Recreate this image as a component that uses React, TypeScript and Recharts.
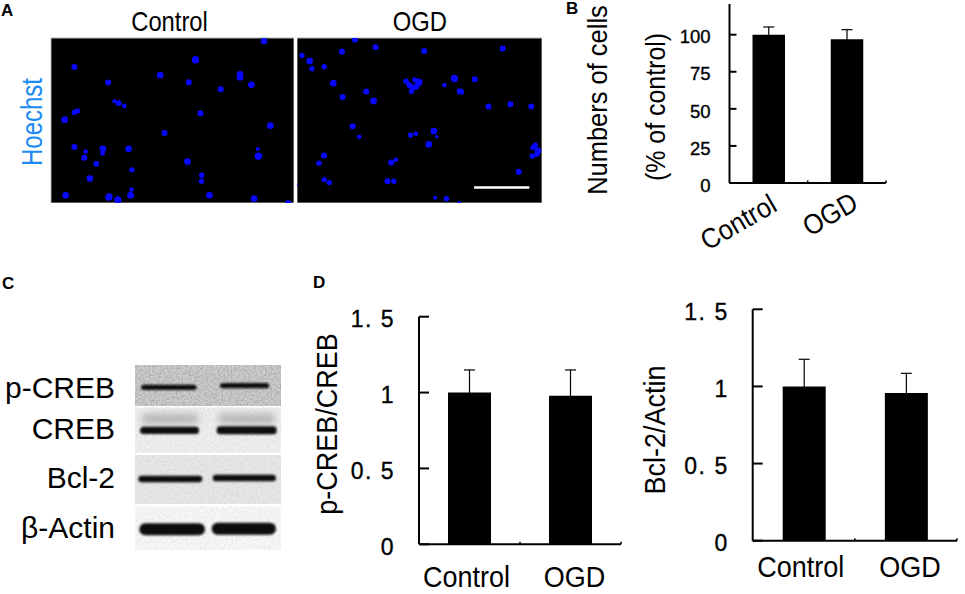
import React from 'react';
import {
  BarChart, Bar, XAxis, YAxis, ErrorBar, Label, ScatterChart, Scatter,
  ReferenceArea, ReferenceLine,
} from 'recharts';

const FONT = '"Liberation Sans", Arial, sans-serif';

// ---- Bar chart values
const groups = ['Control', 'OGD'];
const cellCounts = [100, 96.9];
const cellCountErrors = [5.2, 6.5];
const cellTicks = [0, 25, 50, 75, 100];
const pCreb = [1.0, 0.979];
const pCrebErrors = [0.149, 0.17];
const bcl2 = [1.0, 0.957];
const bcl2Errors = [0.176, 0.128];
const ratioTicks = [0, 0.5, 1, 1.5];
const ratioTickLabels = ['0', '0. 5', '1', '1. 5'];

// ---- Hoechst fields: [x, y, nucleus area] read in field units
const controlNuclei = [
  [792,122,100],[586,178,120],[222,200,81],[480,224,100],[720,221,90],[720,230,110],[324,246,81],[566,245,81],
  [662,266,81],[754,253,100],[342,302,36],[355,307,81],[372,316,49],[222,335,64],[231,331,64],[193,357,100],
  [601,338,81],[811,375,100],[493,397,81],[222,439,81],[256,452,49],[252,471,81],[308,444,100],[307,458,49],
  [385,444,100],[773,445,36],[775,466,121],[288,489,81],[395,507,64],[562,482,100],[605,523,64],[604,541,64],
  [269,533,100],[394,566,49],[391,583,100],[196,583,100],[326,588,121],[353,597,121],[628,583,100],[762,593,100],[865,606,81],
];
const ogdNuclei = [
  [180,118,81],[141,153,81],[242,141,81],[21,165,64],[44,182,100],[51,205,64],[88,199,64],[388,152,81],[624,144,81],
  [115,248,100],[143,289,81],[214,273,81],[236,301,100],[479,234,121],[540,236,81],[449,254,49],[495,272,81],[500,274,64],
  [581,318,81],[647,311,81],[710,318,81],[333,242,64],[345,255,81],[360,238,64],[372,245,121],[365,258,81],[355,262,64],
  [350,272,64],[340,250,49],[173,377,81],[193,408,49],[347,403,64],[363,399,49],[417,391,100],[426,408,25],[402,431,100],
  [87,464,81],[72,487,64],[289,485,81],[303,477,49],[88,536,64],[103,545,64],[278,541,81],[297,541,64],[672,513,81],
  [421,590,36],[455,593,64],[493,606,36],[6,552,16],[722,433,64],[715,440,64],[730,450,100],[713,466,64],[727,460,64],
];
const scaleBarField = [538, 704];
const scaleBarLevel = 560;
const fieldTitles = ['Control', 'OGD'];

// ---- Western blot, in gel units: strips [y1, y2, grey], bands [x1, x2, y1, y2]
const blotNames = ['p-CREB', 'CREB', 'Bcl-2', 'β-Actin'];
const blotNameLevels = [350, 475, 622, 770];
const blotStrips = [
  [285, 408, 206],
  [413, 548, 240],
  [555, 702, 232],
  [710, 840, 248],
];
const blotSmears = [
  [425, 595, 430, 462],
  [655, 825, 430, 462],
];
const blotBands = [
  [423, 590, 344, 360],
  [660, 808, 339, 355],
  [420, 597, 470, 492],
  [650, 830, 469, 493],
  [415, 607, 617, 637],
  [638, 828, 614, 634],
  [418, 615, 760, 796],
  [635, 828, 758, 794],
];

const toNuclei = (rows: number[][]) => rows.map(([x, y, z]) => ({ x, y, z }));
const toBars = (vals: number[], errs: number[]) => groups.map((g, i) => ({ g, v: vals[i], e: errs[i] }));

function Abs({ left, top, children }: any) {
  return <div style={{ position: 'absolute', left, top }}>{children}</div>;
}

function Stretch({ x, y, size, sx = 1, angle = 0, anchor = 'middle', central = false, color = '#000', text }: any) {
  return (
    <text x={0} y={0} fontSize={size} fill={color} fontFamily={FONT} textAnchor={anchor}
      dominantBaseline={central ? 'central' : undefined}
      transform={`translate(${x} ${y}) rotate(${angle}) scale(${sx} 1)`}>{text}</text>
  );
}

const nucleusShape = (p: any) => <circle cx={p.cx} cy={p.cy} r={Math.sqrt(p.payload.z) / 3} fill="#0808ff" />;

function FieldPanel({ left, width, nuclei, title, titleAt, yLabel, scaleBar, yPad, xDomain }: any) {
  const titleTick = (p: any) => <Stretch x={p.x} y={31} size={27} sx={0.88} text={title} />;
  return (
    <Abs left={left} top={0}>
      <ScatterChart width={width} height={203} margin={{ top: 0, right: 0, bottom: 0, left: 0 }}>
        <XAxis orientation="top" type="number" dataKey="x" domain={xDomain} height={38} allowDataOverflow
          ticks={[titleAt]} axisLine={false} tickLine={false} tickSize={0} tick={titleTick} interval={0} />
        <YAxis type="number" dataKey="y" domain={[113, 606]} reversed width={yPad} allowDataOverflow
          tick={false} axisLine={false} tickLine={false}>
          {yLabel ? <Label content={() => <Stretch x={32} y={122} size={30} sx={0.8} angle={-90} central color="#1c8cf2" text={yLabel} />} /> : null}
        </YAxis>
        <ReferenceArea x1={xDomain[0]} x2={xDomain[1]} y1={113} y2={606} fill="#000" fillOpacity={1} stroke="#b5b5b5" strokeWidth={1} ifOverflow="extendDomain" />
        <Scatter data={nuclei} shape={nucleusShape} isAnimationActive={false} />
        {scaleBar ? (
          <ReferenceLine segment={[{ x: scaleBar[0], y: scaleBarLevel }, { x: scaleBar[1], y: scaleBarLevel }]}
            stroke="#fff" strokeWidth={2.5} />
        ) : null}
      </ScatterChart>
    </Abs>
  );
}

function BlotPanel() {
  const rect = (blur: string | undefined, fill: string, rx = 0) => (p: any) => (
    <rect x={p.x} y={p.y} width={p.width} height={p.height} fill={fill} rx={rx} ry={rx} filter={blur ? `url(#${blur})` : undefined} />
  );
  const nameTick = (p: any) => (
    <Stretch x={p.x} y={p.y + 11} size={30} sx={1} anchor="end" text={blotNames[blotNameLevels.indexOf(p.payload.value)]} />
  );
  return (
    <Abs left={0} top={355}>
      <ScatterChart width={285} height={205} margin={{ top: 10, right: 4, bottom: 10, left: 0 }}>
        <defs>
          <filter id="noiseHeavy" x="0" y="0" width="1" height="1" colorInterpolationFilters="sRGB">
            <feTurbulence type="fractalNoise" baseFrequency="0.55" numOctaves="1" seed="4" result="n" />
            <feColorMatrix in="n" type="matrix" values="0.45 0 0 0 0.72  0.45 0 0 0 0.72  0.45 0 0 0 0.72  0 0 0 0 1" result="g" />
            <feGaussianBlur in="g" stdDeviation="0.6" result="gb" />
            <feBlend in="SourceGraphic" in2="gb" mode="multiply" />
          </filter>
          <filter id="noiseLight" x="0" y="0" width="1" height="1" colorInterpolationFilters="sRGB">
            <feTurbulence type="fractalNoise" baseFrequency="0.5" numOctaves="1" seed="9" result="n" />
            <feColorMatrix in="n" type="matrix" values="0.16 0 0 0 0.9  0.16 0 0 0 0.9  0.16 0 0 0 0.9  0 0 0 0 1" result="g" />
            <feGaussianBlur in="g" stdDeviation="0.6" result="gb" />
            <feBlend in="SourceGraphic" in2="gb" mode="multiply" />
          </filter>
          <filter id="soft1" x="-10%" y="-60%" width="120%" height="220%"><feGaussianBlur stdDeviation="1.1" /></filter>
          <filter id="soft4" x="-20%" y="-80%" width="140%" height="260%"><feGaussianBlur stdDeviation="3.5" /></filter>
        </defs>
        <XAxis type="number" dataKey="x" domain={[405, 843]} hide allowDataOverflow />
        <YAxis type="number" dataKey="y" domain={[285, 840]} reversed width={135} ticks={blotNameLevels} interval={0}
          axisLine={false} tickLine={false} tickSize={0} tickMargin={20} tick={nameTick} allowDataOverflow />
        <Scatter data={[]} isAnimationActive={false} />
        {blotStrips.map(([y1, y2, g], i) => (
          <ReferenceArea key={`s${i}`} x1={405} x2={843} y1={y1} y2={y2}
            shape={rect(i === 0 ? 'noiseHeavy' : 'noiseLight', `rgb(${g},${g},${g})`)} />
        ))}
        {blotSmears.map(([x1, x2, y1, y2], i) => (
          <ReferenceArea key={`m${i}`} x1={x1} x2={x2} y1={y1} y2={y2} shape={rect('soft4', '#b8b8b8', 4)} />
        ))}
        {blotBands.map(([x1, x2, y1, y2], i) => (
          <ReferenceArea key={`b${i}`} x1={x1} x2={x2} y1={y1} y2={y2} shape={rect('soft1', '#0c0c0c', i > 5 ? 6 : 3.5)} />
        ))}
      </ScatterChart>
    </Abs>
  );
}

function BarPanel({ left, top, width, height, plot, data, domain, ticks, tickText, tickFont, tickGap, tickLen, tickSpacing = 0, barSize, xTick, yLabels }: any) {
  const yTick = (p: any) => {
    const i = ticks.indexOf(p.payload.value);
    return (
      <g>
        <line x1={p.x} x2={p.x + tickLen} y1={p.y} y2={p.y} stroke="#000" strokeWidth={2} />
        <text x={p.x - tickGap} y={p.y + tickFont * 0.36 + 2} textAnchor="end" fontSize={tickFont} fontFamily={FONT}
          fill="#000" stroke="#000" strokeWidth={0.35} style={{ letterSpacing: tickSpacing }}>{tickText[i]}</text>
      </g>
    );
  };
  return (
    <Abs left={left} top={top}>
      <BarChart width={width} height={height} data={data}
        margin={{ top: plot.top, right: width - plot.right, bottom: 0, left: 0 }} barCategoryGap={0}>
        <XAxis dataKey="g" type="category" height={height - plot.bottom} axisLine={{ stroke: '#000', strokeWidth: 2 }}
          tickLine={false} tickSize={0} tickMargin={0} interval={0} tick={xTick} />
        <YAxis type="number" domain={domain} ticks={ticks} width={plot.left} interval={0} allowDataOverflow
          axisLine={{ stroke: '#000', strokeWidth: 2 }} tickLine={false} tickSize={0} tickMargin={0} tick={yTick}>
          <Label content={() => <g>{yLabels.map((l: any) => <Stretch key={l.text} angle={-90} central {...l} />)}</g>} />
        </YAxis>
        <Bar dataKey="v" fill="#000" barSize={barSize} isAnimationActive={false}>
          <ErrorBar dataKey="e" direction="y" width={5.5} stroke="#000" strokeWidth={1.2} isAnimationActive={false} />
        </Bar>
      </BarChart>
    </Abs>
  );
}

const flatTick = (band: number, size: number, sx: number, dy: number) => (p: any) => (
  <g>
    <line x1={p.x + band / 2} x2={p.x + band / 2} y1={p.y - 2.5} y2={p.y} stroke="#000" strokeWidth={1.5} />
    <Stretch x={p.x + (p.index === 0 ? -3 : 4)} y={p.y + dy} size={size} sx={sx} text={p.payload.value} />
  </g>
);

const slantTick = (band: number) => (p: any) => (
  <g>
    <line x1={p.x + band / 2} x2={p.x + band / 2} y1={p.y - 2.5} y2={p.y} stroke="#000" strokeWidth={1.5} />
    <Stretch x={p.x + (p.index === 0 ? 10 : 13)} y={p.y + (p.index === 0 ? 27 : 25)} size={28} sx={0.91} angle={-30} anchor="end" text={p.payload.value} />
  </g>
);

function Letter({ x, y, t }: any) {
  return (
    <div style={{ position: 'absolute', left: x, top: y - 15, fontFamily: FONT, fontWeight: 700, fontSize: 17, lineHeight: '18px', color: '#000' }}>{t}</div>
  );
}

export default function App() {
  return (
    <div style={{ position: 'absolute', left: 0, top: 0, width: 965, height: 594, background: '#fff', overflow: 'hidden' }}>
      <Letter x={1} y={17} t="A" />
      <Letter x={566} y={15} t="B" />
      <Letter x={2} y={290} t="C" />
      <Letter x={313} y={289} t="D" />

      <FieldPanel left={0} width={294} yPad={51} nuclei={toNuclei(controlNuclei)} title={fieldTitles[0]} titleAt={508} yLabel="Hoechst" xDomain={[152, 882]} />
      <FieldPanel left={297} width={245} yPad={0} nuclei={toNuclei(ogdNuclei)} title={fieldTitles[1]} titleAt={375} scaleBar={scaleBarField} xDomain={[6, 742]} />

      <BarPanel left={560} top={0} width={340} height={262}
        plot={{ left: 169.5, right: 326, top: 4, bottom: 183 }}
        data={toBars(cellCounts, cellCountErrors)} domain={[0, 120.7]} ticks={cellTicks} tickText={cellTicks.map(String)}
        tickFont={18.5} tickGap={19} tickLen={7} barSize={32.5} xTick={slantTick(78.25)}
        yLabels={[
          { x: 38, y: 100, size: 28, sx: 0.91, text: 'Numbers of cells' },
          { x: 95, y: 107, size: 28, sx: 0.89, text: '(% of control)' },
        ]} />

      <BlotPanel />

      <BarPanel left={310} top={300} width={320} height={294}
        plot={{ left: 109, right: 311, top: 16.7, bottom: 244.3 }}
        data={toBars(pCreb, pCrebErrors)} domain={[0, 1.5]} ticks={ratioTicks} tickText={ratioTickLabels}
        tickFont={23} tickGap={24} tickLen={10} tickSpacing={1.5} barSize={43} xTick={flatTick(101, 30, 0.9, 42.4)}
        yLabels={[{ x: 17, y: 124, size: 29, sx: 0.93, text: 'p-CREB/CREB' }]} />

      <BarPanel left={630} top={290} width={335} height={304}
        plot={{ left: 122.7, right: 327, top: 19.3, bottom: 250.7 }}
        data={toBars(bcl2, bcl2Errors)} domain={[0, 1.5]} ticks={ratioTicks} tickText={ratioTickLabels}
        tickFont={23} tickGap={24} tickLen={10} tickSpacing={1.5} barSize={43} xTick={flatTick(102, 30, 0.9, 36)}
        yLabels={[{ x: 24, y: 140, size: 30, sx: 0.9, text: 'Bcl-2/Actin' }]} />
    </div>
  );
}
